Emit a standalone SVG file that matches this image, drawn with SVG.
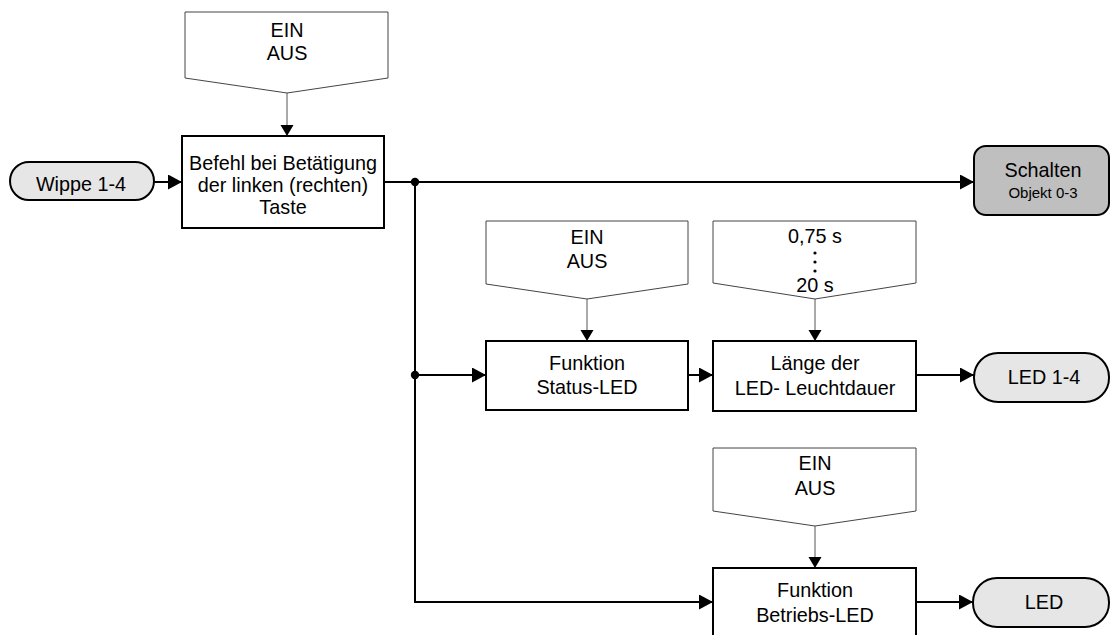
<svg xmlns="http://www.w3.org/2000/svg" width="1111" height="635" viewBox="0 0 1111 635">
<style>
text{font-family:"Liberation Sans",Arial,sans-serif;font-size:19.8px;fill:#000;text-anchor:middle}
.small{font-size:15px}
.box{fill:#fff;stroke:#000;stroke-width:2}
.pent{fill:#fff;stroke:#444;stroke-width:1}
.pill{fill:#e6e6e6;stroke:#000;stroke-width:2}
.term{fill:#bfbfbf;stroke:#000;stroke-width:2}
.thick{fill:none;stroke:#000;stroke-width:2;marker-end:url(#ah)}
.thin{fill:none;stroke:#555;stroke-width:1;marker-end:url(#as)}
</style>
<defs>
<marker id="ah" markerUnits="userSpaceOnUse" markerWidth="15" markerHeight="16" refX="14" refY="7.5" orient="auto"><path d="M0,0 L14,7.5 L0,15 Z" fill="#000"/></marker>
<marker id="as" markerUnits="userSpaceOnUse" markerWidth="12" markerHeight="14" refX="11" refY="6.5" orient="auto"><path d="M0,0 L11,6.5 L0,13 Z" fill="#000"/></marker>
</defs>
<g id="connectors">
<path class="thick" d="M154,182 H182"/>
<path class="thick" d="M384,182 H974"/>
<path class="thick" d="M415,182 V602 H713"/>
<path class="thick" d="M415,375 H486"/>
<path class="thick" d="M688,375 H713"/>
<path class="thick" d="M916,375 H974"/>
<path class="thick" d="M916,602 H973"/>
<path class="thin" d="M287,93 V136"/>
<path class="thin" d="M587,299 V341"/>
<path class="thin" d="M815,299 V341"/>
<path class="thin" d="M815,526 V568"/>
<circle cx="415" cy="182" r="4.2" fill="#000"/>
<circle cx="415" cy="375" r="4.2" fill="#000"/>
</g>
<g id="param-top">
<path class="pent" d="M185,12 H388 V78 L287,93 L185,78 Z"/>
<text x="287" y="37">EIN</text>
<text x="287" y="60">AUS</text>
</g>
<g id="wippe">
<rect class="pill" x="10" y="162" width="144" height="38" rx="19"/>
<text x="81" y="191">Wippe 1-4</text>
</g>
<g id="befehl">
<rect class="box" x="182" y="136" width="202" height="92"/>
<text x="283" y="170">Befehl bei Betätigung</text>
<text x="283" y="192">der linken (rechten)</text>
<text x="283" y="214">Taste</text>
</g>
<g id="schalten">
<rect class="term" x="974" y="146" width="135" height="69" rx="12"/>
<text x="1043" y="177">Schalten</text>
<text class="small" x="1043" y="198">Objekt 0-3</text>
</g>
<g id="param-status">
<path class="pent" d="M486,221 H688 V284 L587,299 L486,284 Z"/>
<text x="587" y="244">EIN</text>
<text x="587" y="268">AUS</text>
</g>
<g id="param-time">
<path class="pent" d="M713,221 H916 V283 L815,299 L713,283 Z"/>
<text x="815" y="243">0,75 s</text>
<circle cx="815" cy="253" r="1.6" fill="#000"/>
<circle cx="815" cy="262" r="1.6" fill="#000"/>
<circle cx="815" cy="271" r="1.6" fill="#000"/>
<text x="815" y="292">20 s</text>
</g>
<g id="status-led">
<rect class="box" x="486" y="341" width="202" height="69"/>
<text x="587" y="370">Funktion</text>
<text x="587" y="394">Status-LED</text>
</g>
<g id="laenge">
<rect class="box" x="713" y="341" width="203" height="70"/>
<text x="815" y="370">Länge der</text>
<text x="815" y="395">LED- Leuchtdauer</text>
</g>
<g id="led14">
<rect class="pill" x="974" y="353" width="135" height="49" rx="24"/>
<text x="1044" y="384">LED 1-4</text>
</g>
<g id="param-betrieb">
<path class="pent" d="M713,448 H916 V511 L815,526 L713,511 Z"/>
<text x="815" y="470">EIN</text>
<text x="815" y="495">AUS</text>
</g>
<g id="betriebs-led">
<rect class="box" x="713" y="568" width="203" height="80"/>
<text x="815" y="597">Funktion</text>
<text x="815" y="622">Betriebs-LED</text>
</g>
<g id="led">
<rect class="pill" x="973" y="578" width="136" height="49" rx="24"/>
<text x="1044" y="609">LED</text>
</g>
</svg>
